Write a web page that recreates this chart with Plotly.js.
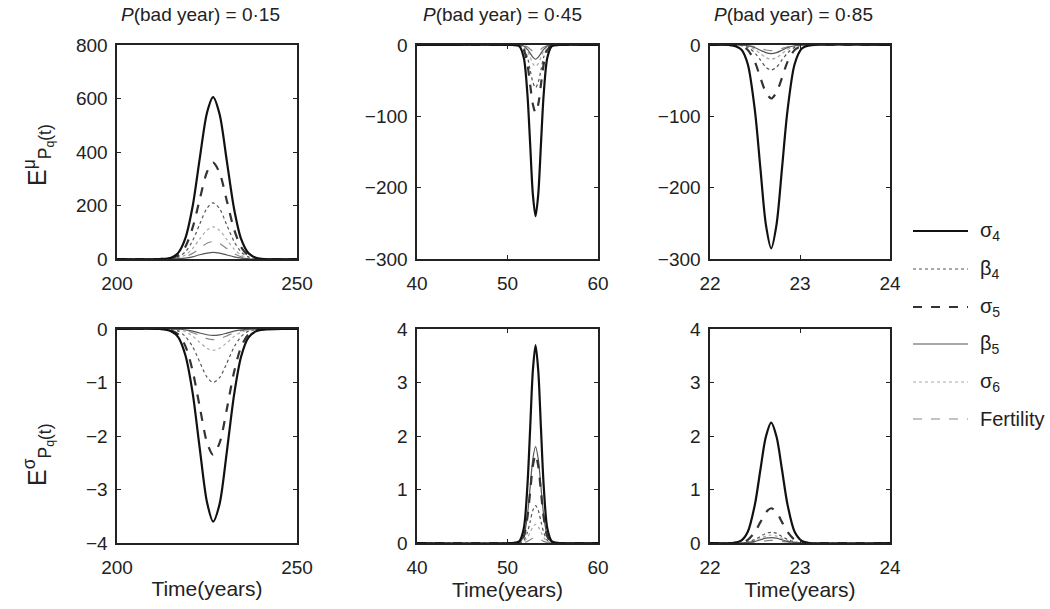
<!DOCTYPE html>
<html>
<head>
<meta charset="utf-8">
<script src="https://cdn.plot.ly/plotly-3.0.1.min.js"></script>
<style>html,body{margin:0;padding:0;background:#fff;}#chart{width:1050px;height:609px;}</style>
</head>
<body>
<div id="chart"></div>
<script>
// ---------- data ----------
const seriesNames = ["σ<sub>4</sub>", "β<sub>4</sub>", "σ<sub>5</sub>", "β<sub>5</sub>", "σ<sub>6</sub>", "Fertility"];
const panelTitles = ["<i>P</i>(bad year) = 0·15", "<i>P</i>(bad year) = 0·45", "<i>P</i>(bad year) = 0·85"];
const yLabels = ["E<sup>μ</sup><sub>P<sub>q</sub>(t)</sub>", "E<sup>σ</sup><sub>P<sub>q</sub>(t)</sub>"];
const xLabel = "Time(years)";

// P = 0.15 time grid (years)
const time015 = [200, 212, 215, 217, 219, 221, 223, 225, 226.7, 228.5, 230.5, 232.5, 234.5, 236.5, 239, 250];
// P = 0.45 time grid
const time045 = [40, 50.5, 51.3, 51.8, 52.2, 52.5, 52.8, 53.1, 53.4, 53.7, 54.0, 54.4, 54.9, 55.7, 60];
// P = 0.85 time grid
const time085 = [22, 22.25, 22.35, 22.42, 22.5, 22.56, 22.62, 22.68, 22.74, 22.8, 22.86, 22.94, 23.02, 23.1, 24];

// Elasticity of mu, P = 0.15
const muSigma4_015 = [0, 0, 5, 23, 78, 196, 377, 547, 605, 541, 367, 189, 74, 22, 3, 0];
const muBeta4_015  = [0, 0, 2, 8, 27, 68, 131, 190, 210, 188, 127, 66, 26, 8, 1, 0];
const muSigma5_015 = [0, 0, 3, 14, 46, 117, 224, 325, 360, 322, 218, 112, 44, 13, 2, 0];
const muBeta5_015  = [0, 0, 0, 1, 3, 8, 16, 22, 25, 22, 15, 8, 3, 1, 0, 0];
const muSigma6_015 = [0, 0, 1, 5, 15, 39, 75, 108, 120, 107, 73, 37, 15, 4, 1, 0];
const muFert_015   = [0, 0, 1, 2, 8, 21, 40, 59, 65, 58, 39, 20, 8, 2, 0, 0];

// Elasticity of mu, P = 0.45
const muSigma4_045 = [0, 0, -1.7, -18, -69, -138, -209, -240, -209, -138, -69, -18, -1.7, 0, 0];
const muBeta4_045  = [0, 0, -0.4, -4.5, -17, -35, -52, -60, -52, -35, -17, -4.5, -0.4, 0, 0];
const muSigma5_045 = [0, 0, -0.7, -7, -27, -55, -83, -95, -83, -55, -27, -7, -0.7, 0, 0];
const muBeta5_045  = [0, 0, -0.1, -1.5, -6, -11.5, -17, -20, -17, -11.5, -6, -1.5, -0.1, 0, 0];
const muSigma6_045 = [0, 0, -0.2, -2.2, -8.6, -17, -26, -30, -26, -17, -8.6, -2.2, -0.2, 0, 0];
const muFert_045   = [0, 0, 0, -0.8, -2.9, -5.8, -8.7, -10, -8.7, -5.8, -2.9, -0.8, 0, 0, 0];

// Elasticity of mu, P = 0.85
const muSigma4_085 = [0, -0.5, -6.5, -27, -93, -173, -251, -285, -251, -173, -93, -27, -5, -0.6, 0];
const muBeta4_085  = [0, 0, -0.8, -3.3, -11.4, -21, -31, -35, -31, -21, -11.4, -3.3, -0.6, 0, 0];
const muSigma5_085 = [0, -0.1, -1.7, -7, -24, -46, -66, -75, -66, -46, -24, -7, -1.3, -0.2, 0];
const muBeta5_085  = [0, 0, -0.3, -1.1, -3.9, -7.3, -10.6, -12, -10.6, -7.3, -3.9, -1.1, -0.2, 0, 0];
const muSigma6_085 = [0, 0, -0.5, -1.9, -6.5, -12, -17.6, -20, -17.6, -12, -6.5, -1.9, -0.4, 0, 0];
const muFert_085   = [0, 0, -0.2, -0.8, -2.6, -4.9, -7, -8, -7, -4.9, -2.6, -0.8, -0.1, 0, 0];

// Elasticity of sigma, P = 0.15
const sgSigma4_015 = [0, 0, -0.04, -0.15, -0.49, -1.19, -2.24, -3.24, -3.6, -3.27, -2.30, -1.24, -0.51, -0.16, -0.03, 0];
const sgBeta4_015  = [0, 0, -0.01, -0.04, -0.14, -0.33, -0.62, -0.9, -1.0, -0.91, -0.64, -0.34, -0.14, -0.04, -0.01, 0];
const sgSigma5_015 = [0, 0, -0.03, -0.1, -0.32, -0.78, -1.46, -2.12, -2.35, -2.13, -1.5, -0.81, -0.33, -0.1, -0.02, 0];
const sgBeta5_015  = [0, 0, 0, -0.005, -0.016, -0.04, -0.075, -0.108, -0.12, -0.109, -0.077, -0.041, -0.017, -0.005, 0, 0];
const sgSigma6_015 = [0, 0, 0, -0.02, -0.05, -0.13, -0.25, -0.36, -0.4, -0.36, -0.26, -0.14, -0.06, -0.02, 0, 0];
const sgFert_015   = [0, 0, 0, -0.01, -0.03, -0.07, -0.12, -0.18, -0.2, -0.18, -0.13, -0.07, -0.03, -0.01, 0, 0];

// Elasticity of sigma, P = 0.45
const sgSigma4_045 = [0, 0, 0.03, 0.27, 1.07, 2.13, 3.22, 3.7, 3.22, 2.13, 1.07, 0.27, 0.03, 0, 0];
const sgBeta4_045  = [0, 0, 0, 0.05, 0.2, 0.4, 0.61, 0.7, 0.61, 0.4, 0.2, 0.05, 0, 0, 0];
const sgSigma5_045 = [0, 0, 0.01, 0.12, 0.48, 0.95, 1.44, 1.65, 1.44, 0.95, 0.48, 0.12, 0.01, 0, 0];
const sgBeta5_045  = [0, 0, 0.01, 0.13, 0.52, 1.04, 1.57, 1.8, 1.57, 1.04, 0.52, 0.13, 0.01, 0, 0];
const sgSigma6_045 = [0, 0, 0, 0.03, 0.1, 0.2, 0.3, 0.35, 0.3, 0.2, 0.1, 0.03, 0, 0, 0];
const sgFert_045   = [0, 0, 0, 0.01, 0.03, 0.06, 0.09, 0.1, 0.09, 0.06, 0.03, 0.01, 0, 0, 0];

// Elasticity of sigma, P = 0.85
const sgSigma4_085 = [0, 0, 0.05, 0.21, 0.73, 1.37, 1.98, 2.25, 1.98, 1.37, 0.73, 0.21, 0.04, 0, 0];
const sgBeta4_085  = [0, 0, 0, 0.02, 0.07, 0.12, 0.18, 0.2, 0.18, 0.12, 0.07, 0.02, 0, 0, 0];
const sgSigma5_085 = [0, 0, 0.01, 0.06, 0.21, 0.39, 0.57, 0.65, 0.57, 0.39, 0.21, 0.06, 0.01, 0, 0];
const sgBeta5_085  = [0, 0, 0, 0.01, 0.03, 0.06, 0.09, 0.1, 0.09, 0.06, 0.03, 0.01, 0, 0, 0];
const sgSigma6_085 = [0, 0, 0, 0.01, 0.05, 0.09, 0.13, 0.15, 0.13, 0.09, 0.05, 0.01, 0, 0, 0];
const sgFert_085   = [0, 0, 0, 0, 0.02, 0.03, 0.04, 0.05, 0.04, 0.03, 0.02, 0, 0, 0, 0];

// axis ranges / ticks
const xRanges = [[200, 250], [40, 60], [22, 24]];
const xDticks = [50, 10, 1];
const yRangesMu = [[0, 800], [-300, 0], [-300, 0]];
const yDticksMu = [200, 100, 100];
const yRangesSigma = [[-4, 0], [0, 4], [0, 4]];
const yDticksSigma = [1, 1, 1];

// ---------- build ----------
const styles = [
  {color: "#111111", width: 2.2, dash: "solid"},
  {color: "#555555", width: 1.2, dash: "dot"},
  {color: "#333333", width: 2.2, dash: "dash"},
  {color: "#555555", width: 1.2, dash: "solid"},
  {color: "#aaaaaa", width: 1.2, dash: "dot"},
  {color: "#888888", width: 1.2, dash: "dash"}
];
const panels = [
  {x: time015, ys: [muSigma4_015, muBeta4_015, muSigma5_015, muBeta5_015, muSigma6_015, muFert_015]},
  {x: time045, ys: [muSigma4_045, muBeta4_045, muSigma5_045, muBeta5_045, muSigma6_045, muFert_045]},
  {x: time085, ys: [muSigma4_085, muBeta4_085, muSigma5_085, muBeta5_085, muSigma6_085, muFert_085]},
  {x: time015, ys: [sgSigma4_015, sgBeta4_015, sgSigma5_015, sgBeta5_015, sgSigma6_015, sgFert_015]},
  {x: time045, ys: [sgSigma4_045, sgBeta4_045, sgSigma5_045, sgBeta5_045, sgSigma6_045, sgFert_045]},
  {x: time085, ys: [sgSigma4_085, sgBeta4_085, sgSigma5_085, sgBeta5_085, sgSigma6_085, sgFert_085]}
];

const traces = [];
// draw order: lighter first, thick solid last
const order = [4, 1, 5, 3, 2, 0];
panels.forEach((p, pi) => {
  const ax = pi === 0 ? "" : String(pi + 1);
  order.forEach(si => {
    traces.push({
      type: "scatter", mode: "lines",
      x: p.x, y: p.ys[si],
      xaxis: "x" + ax, yaxis: "y" + ax,
      name: seriesNames[si], legendgroup: "g" + si,
      showlegend: false,
      line: {color: styles[si].color, width: styles[si].width, dash: styles[si].dash, shape: "spline", smoothing: 0.8},
      hoverinfo: "skip"
    });
  });
});

const W = 1050, H = 609;
const colPx = [[117, 297], [417, 598], [710, 890]];
const rowPx = [[45, 259], [329, 543]];
const FONT = "Liberation Sans, Arial, Helvetica, sans-serif";
const TXT = "#222";

const layout = {
  width: W, height: H,
  margin: {l: 0, r: 0, t: 0, b: 0},
  paper_bgcolor: "#fff", plot_bgcolor: "#fff",
  font: {family: FONT, size: 19, color: TXT},
  showlegend: false,
  annotations: [],
  shapes: [],
  hovermode: false
};

const titleX = [200, 502, 793];
for (let pi = 0; pi < 6; pi++) {
  const c = pi % 3, r = Math.floor(pi / 3);
  const ax = pi === 0 ? "" : String(pi + 1);
  const xa = {
    domain: [colPx[c][0] / W, colPx[c][1] / W],
    range: xRanges[c], dtick: xDticks[c], tick0: xRanges[c][0],
    anchor: "y" + ax,
    showline: true, linecolor: "#222", linewidth: 1.6, mirror: "ticks",
    ticks: "inside", ticklen: 4, tickcolor: "#222",
    showgrid: false, zeroline: false, ticklabelstandoff: 7,
    tickfont: {size: 19, color: TXT}
  };
  if (r === 1) {
    xa.title = {text: xLabel, font: {size: 21, color: TXT}, standoff: 4};
  }
  const ya = {
    domain: [1 - rowPx[r][1] / H, 1 - rowPx[r][0] / H],
    range: r === 0 ? yRangesMu[c] : yRangesSigma[c],
    dtick: r === 0 ? yDticksMu[c] : yDticksSigma[c],
    anchor: "x" + ax,
    showline: true, linecolor: "#222", linewidth: 1.6, mirror: "ticks",
    ticks: "inside", ticklen: 4, tickcolor: "#222",
    showgrid: false, zeroline: false, ticklabelstandoff: 4,
    tickfont: {size: 19, color: TXT}
  };
  layout["xaxis" + ax] = xa;
  layout["yaxis" + ax] = ya;
  if (r === 0) {
    layout.annotations.push({
      text: panelTitles[c], xref: "paper", yref: "paper",
      x: titleX[c] / W, y: 1 - 15 / H, xanchor: "center", yanchor: "middle",
      showarrow: false, font: {size: 19, color: TXT}
    });
  }
}

// y-axis labels (rotated), same x for both rows
[155, 455].forEach((yc, r) => {
  layout.annotations.push({
    text: yLabels[r], xref: "paper", yref: "paper",
    x: 38 / W, y: 1 - yc / H, xanchor: "center", yanchor: "middle",
    textangle: -90, showarrow: false, font: {size: 25, color: TXT}
  });
});

// legend (line samples + labels)
const legY = [231, 269, 307, 344, 382, 419];
seriesNames.forEach((nm, si) => {
  const yp = 1 - legY[si] / H;
  layout.shapes.push({
    type: "line", xref: "paper", yref: "paper",
    x0: 913 / W, x1: 968 / W, y0: yp, y1: yp,
    line: {color: styles[si].color, width: styles[si].width, dash: styles[si].dash}
  });
  layout.annotations.push({
    text: nm, xref: "paper", yref: "paper",
    x: 978 / W, y: yp, xanchor: "left", yanchor: "middle",
    showarrow: false, font: {size: 20, color: TXT}
  });
});

Plotly.newPlot("chart", traces, layout, {displayModeBar: false, staticPlot: true});
</script>
</body>
</html>
